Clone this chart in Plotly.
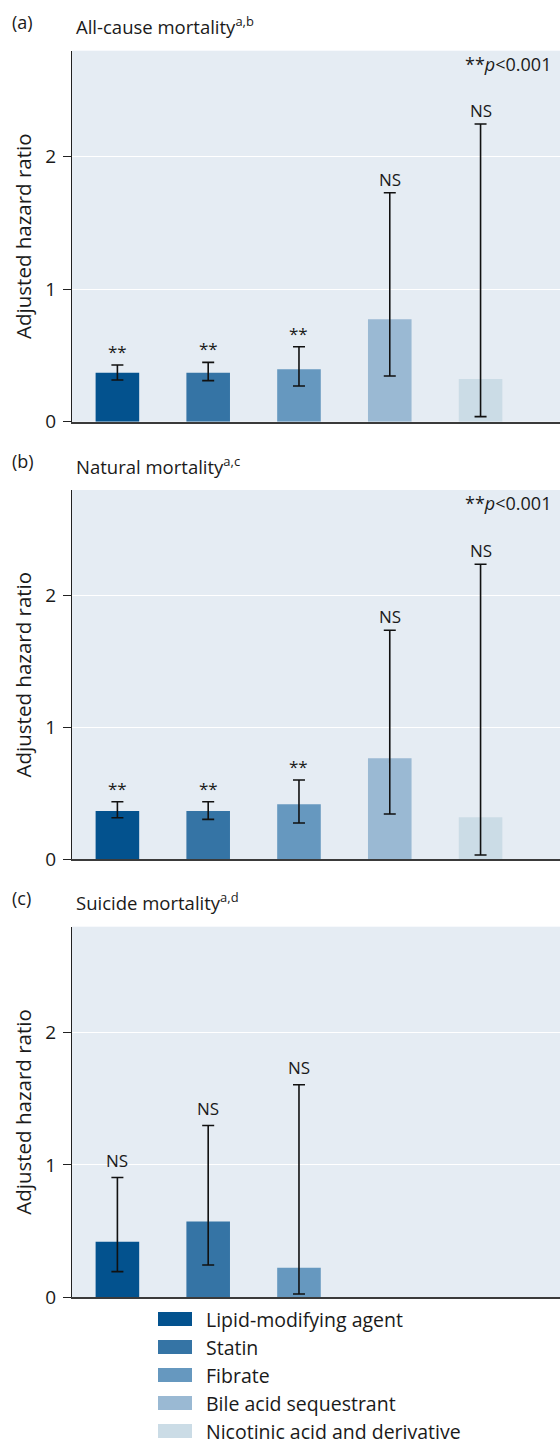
import plotly.graph_objects as go

# ---------------- data ----------------
categories = ["Lipid-modifying agent", "Statin", "Fibrate",
              "Bile acid sequestrant", "Nicotinic acid and derivative"]
colors = ["#03528E", "#3574A5", "#6698BF", "#9AB9D3", "#CBDCE6"]

panel_letters = ["(a)", "(b)", "(c)"]
panel_titles = ["All-cause mortality<sup>a,b</sup>",
                "Natural mortality<sup>a,c</sup>",
                "Suicide mortality<sup>a,d</sup>"]

hr_all = [0.37, 0.37, 0.395, 0.773, 0.322]
lo_all = [0.315, 0.31, 0.27, 0.345, 0.038]
hi_all = [0.428, 0.448, 0.566, 1.728, 2.247]
sig_all = ["**", "**", "**", "NS", "NS"]

hr_nat = [0.366, 0.366, 0.417, 0.767, 0.318]
lo_nat = [0.315, 0.303, 0.275, 0.343, 0.033]
hi_nat = [0.436, 0.436, 0.601, 1.737, 2.237]
sig_nat = ["**", "**", "**", "NS", "NS"]

hr_sui = [0.42, 0.572, 0.224]
lo_sui = [0.194, 0.244, 0.025]
hi_sui = [0.905, 1.298, 1.606]
sig_sui = ["NS", "NS", "NS"]

panels = [
    (hr_all, lo_all, hi_all, sig_all, True),
    (hr_nat, lo_nat, hi_nat, sig_nat, True),
    (hr_sui, lo_sui, hi_sui, sig_sui, False),
]
y_ticks = [0, 1, 2]
y_max = 2.8
p_note = "**<i>p</i>&lt;0.001"
y_title = "Adjusted hazard ratio"

# ---------------- layout helpers ----------------
W, H = 560, 1445
ML = 72
FONT = "Open Sans"
TXT = "#1a1a1a"


def px_x(px):
    return (px - ML) / (W - ML)


def px_y(py):
    return (H - py) / H


# pixel extents of each plot area (top, bottom)
panel_px = [(50.7, 421.7), (490.0, 859.3), (926.7, 1297.3)]

fig = go.Figure()
annotations = []
shapes = []

for i, (hr, lo, hi, sig, show_p) in enumerate(panels):
    n = i + 1
    xa = "x" if n == 1 else f"x{n}"
    ya = "y" if n == 1 else f"y{n}"
    cats = categories[:len(hr)]
    fig.add_trace(go.Bar(
        x=cats, y=hr,
        marker=dict(color=colors[:len(hr)], line=dict(width=0)),
        width=0.48,
        error_y=dict(type="data", symmetric=False,
                     array=[h - v for h, v in zip(hi, hr)],
                     arrayminus=[v - l for v, l in zip(hr, lo)],
                     color="#111111", thickness=1.6, width=6),
        xaxis=xa, yaxis=ya, showlegend=False, hoverinfo="skip",
    ))
    top, bot = panel_px[i]
    dom = [px_y(bot), px_y(top)]
    xkey = "xaxis" if n == 1 else f"xaxis{n}"
    ykey = "yaxis" if n == 1 else f"yaxis{n}"
    fig.update_layout(**{
        xkey: dict(domain=[0, 1], anchor=ya, type="category",
                   categoryorder="array", categoryarray=categories,
                   range=[-0.5, 4.875], showticklabels=False, ticks="",
                   showgrid=False, zeroline=False, showline=True,
                   linecolor="#3a3a3a", linewidth=2, fixedrange=True,
                   automargin=False),
        ykey: dict(domain=dom, anchor=xa, range=[0, y_max], tickvals=y_ticks,
                   ticks="outside", ticklen=8, tickwidth=1.2, tickcolor="#222",
                   showgrid=True, gridcolor="white", gridwidth=1.3,
                   zeroline=False, showline=True, linecolor="#222",
                   linewidth=1.2, ticklabelstandoff=3, automargin=False,
                   tickfont=dict(family=FONT, size=19, color=TXT),
                   title=dict(text=y_title, standoff=8,
                              font=dict(family=FONT, size=20.5, color=TXT))),
    })
    # significance labels
    for c, h, s in zip(cats, hi, sig):
        annotations.append(dict(
            x=c, y=h, xref=xa, yref=ya, text=s, showarrow=False,
            yanchor="bottom", yshift=(0 if i < 2 else 4),
            font=dict(family=FONT, size=17, color=TXT)))
    if show_p:
        annotations.append(dict(
            x=px_x(553), y=px_y(top + 13), xref="paper", yref="paper",
            text=p_note, showarrow=False, xanchor="right", yanchor="middle",
            font=dict(family=FONT, size=18, color=TXT)))
    # panel letter + title
    annotations.append(dict(
        x=px_x(10), y=px_y(top - 29), xref="paper", yref="paper",
        text=panel_letters[i], showarrow=False, xanchor="left",
        yanchor="middle", font=dict(family=FONT, size=18, color=TXT)))
    annotations.append(dict(
        x=px_x(74), y=px_y(top - 25), xref="paper", yref="paper",
        text=panel_titles[i], showarrow=False, xanchor="left",
        yanchor="middle", font=dict(family=FONT, size=18.5, color=TXT)))

# manual legend
leg_rows = [1319, 1347, 1375, 1403, 1431]
for cat, col, yc in zip(categories, colors, leg_rows):
    shapes.append(dict(type="rect", xref="paper", yref="paper",
                       x0=px_x(158), x1=px_x(192),
                       y0=px_y(yc + 7), y1=px_y(yc - 7),
                       fillcolor=col, line=dict(width=0)))
    annotations.append(dict(
        x=px_x(204), y=px_y(yc), xref="paper", yref="paper", text=cat,
        showarrow=False, xanchor="left", yanchor="middle",
        font=dict(family=FONT, size=19.5, color=TXT)))

fig.update_layout(
    width=W, height=H,
    margin=dict(l=ML, r=0, t=0, b=0, pad=0, autoexpand=False),
    paper_bgcolor="white", plot_bgcolor="#E5ECF3",
    font=dict(family=FONT, size=16, color=TXT),
    annotations=annotations, shapes=shapes, bargap=0.5,
)

fig.write_html(
    "out.html",
    config={"displayModeBar": False},
    post_script=(
        "document.documentElement.style.margin='0';"
        "document.documentElement.style.height='1445px';"
        "document.documentElement.style.overflow='hidden';"
        "document.body.style.margin='0';"
        "document.body.style.height='1445px';"
        "document.body.style.overflow='hidden';"
    ),
)
